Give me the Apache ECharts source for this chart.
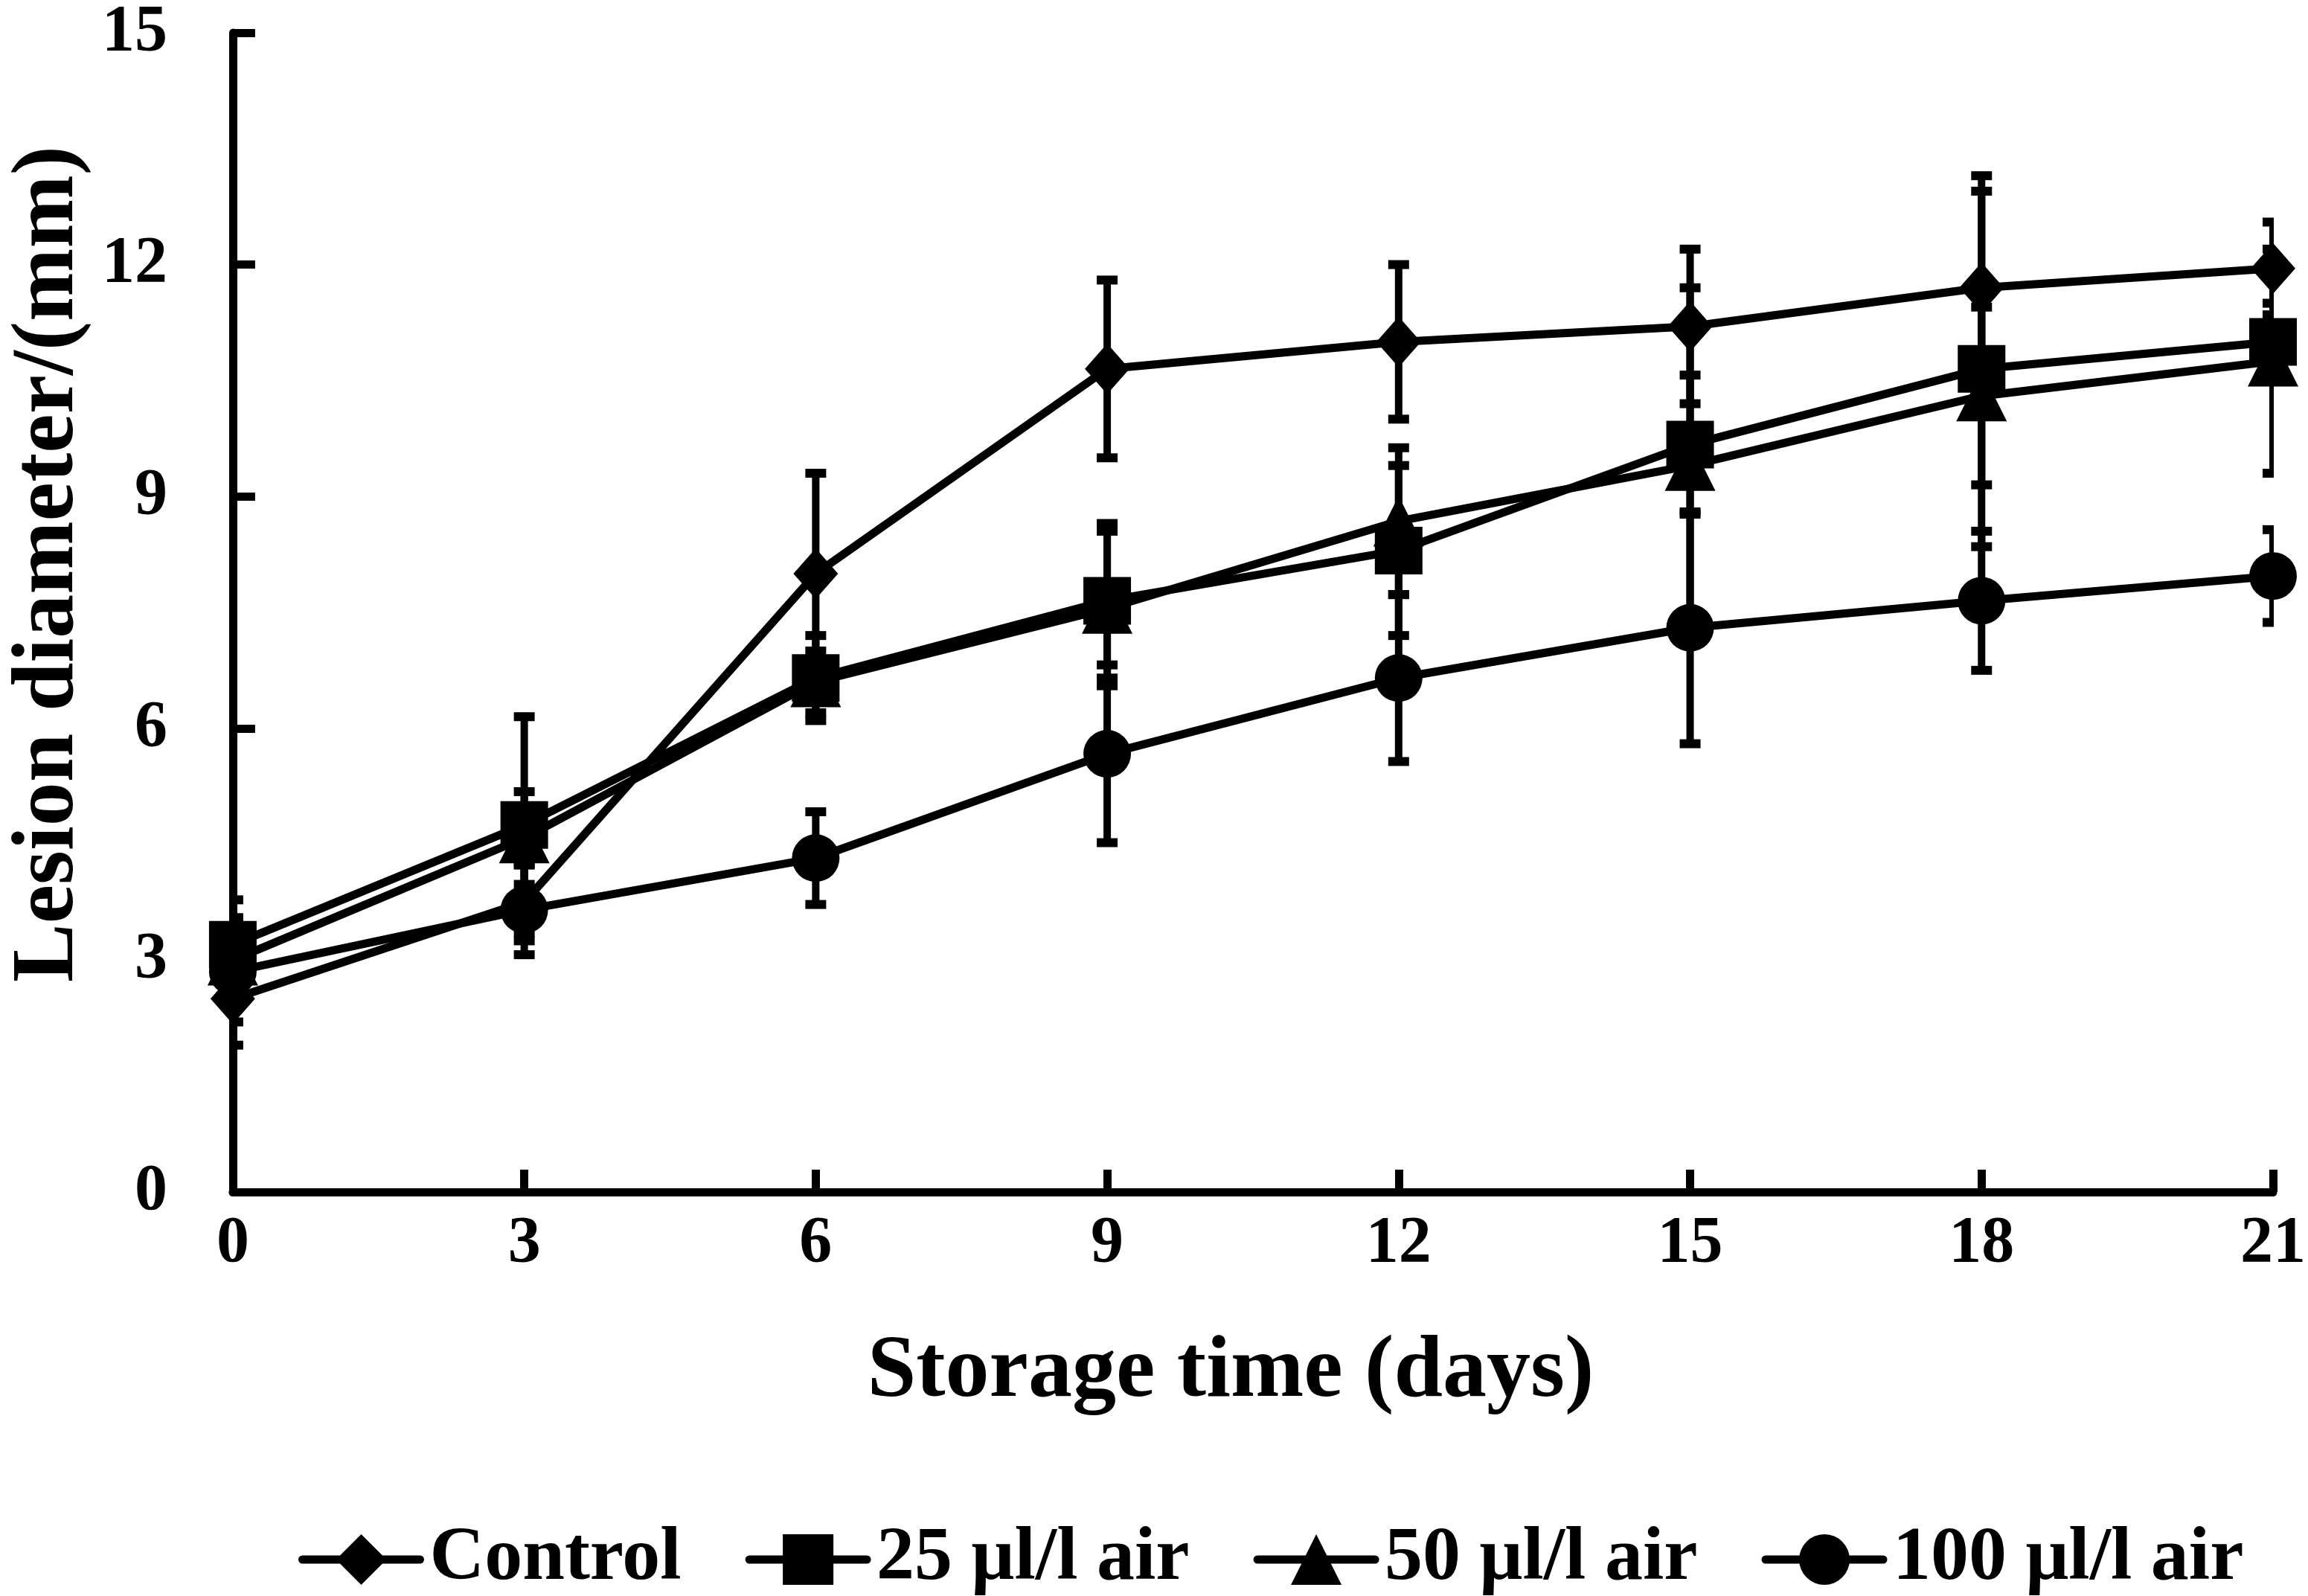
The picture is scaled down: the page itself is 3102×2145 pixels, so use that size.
<!DOCTYPE html>
<html>
<head>
    <meta charset="utf-8">
    <title>Lesion diameter</title>
    <style>
        html, body {margin: 0; padding: 0; background: #fff;}
        #main {width: 3102px; height: 2145px;}
    </style>
    <script src="https://cdn.jsdelivr.net/npm/echarts@6/dist/echarts.min.js"></script>
</head>
<body>
<div id="main"></div>
<script type="text/javascript">
    // storage days
    var days = [0, 3, 6, 9, 12, 15, 18, 21];

    // mean lesion diameter (mm) and SD
    var control = [2.5, 3.75, 8.0, 10.65, 11.0, 11.2, 11.7, 11.95];
    var controlSd = [0.6, 0.5, 1.3, 1.15, 1.0, 1.0, 1.45, 0.6];
    var air25 = [3.2, 4.75, 6.65, 7.65, 8.3, 9.67, 10.65, 11.0];
    var air25Sd = [0.58, 1.4, 0.55, 1.0, 1.1, 0.9, 2.3, 0.5];
    var air50 = [3.0, 4.58, 6.6, 7.55, 8.68, 9.4, 10.3, 10.75];
    var air50Sd = [0.55, 0.6, 0.4, 1.0, 0.95, 2.3, 1.15, 1.45];
    var air100 = [2.85, 3.65, 4.32, 5.67, 6.65, 7.3, 7.65, 7.97];
    var air100Sd = [0.65, 0.58, 0.6, 1.15, 1.08, 1.5, 0.9, 0.6];

    var names = ['Control', '25 μl/l air', '50 μl/l air', '100 μl/l air'];
    var symbols = ['diamond', 'rect', 'triangle', 'circle'];
    var symbolSizes = [[60, 68], 64, 68, 64];
    var means = [control, air25, air50, air100];
    var sds = [controlSd, air25Sd, air50Sd, air100Sd];

    var font = "'Liberation Serif', 'Times New Roman', serif";

    function pairs(vals) {
        return days.map(function (d, i) { return [d, vals[i]]; });
    }
    function bars(vals, sd) {
        return days.map(function (d, i) { return [d, vals[i] - sd[i], vals[i] + sd[i]]; });
    }

    // vertical error bar with caps
    function renderBar(params, api) {
        var x = api.value(0);
        var lo = api.coord([x, api.value(1)]);
        var hi = api.coord([x, api.value(2)]);
        var cw = 14;
        var stem = {stroke: '#000', lineWidth: 10};
        var cap = {stroke: '#000', lineWidth: 12};
        return {
            type: 'group',
            children: [
                {type: 'line', shape: {x1: lo[0], y1: lo[1], x2: hi[0], y2: hi[1]}, style: stem},
                {type: 'line', shape: {x1: hi[0] - cw, y1: hi[1], x2: hi[0] + cw, y2: hi[1]}, style: cap},
                {type: 'line', shape: {x1: lo[0] - cw, y1: lo[1], x2: lo[0] + cw, y2: lo[1]}, style: cap}
            ]
        };
    }

    var series = [];
    for (var i = 0; i < names.length; i++) {
        series.push({
            type: 'custom',
            renderItem: renderBar,
            data: bars(means[i], sds[i]),
            encode: {x: 0, y: [1, 2]},
            clip: true,
            silent: true,
            z: 1
        });
    }
    for (var i = 0; i < names.length; i++) {
        series.push({
            name: names[i],
            type: 'line',
            data: pairs(means[i]),
            symbol: symbols[i],
            symbolSize: symbolSizes[i],
            showAllSymbol: true,
            clip: false,
            lineStyle: {color: '#000', width: 11},
            itemStyle: {color: '#000'},
            z: 3
        });
    }

    var myChart = echarts.init(document.getElementById('main'));
    var option = {
        animation: false,
        backgroundColor: '#fff',
        grid: {left: 290, right: 47, top: 38, bottom: 543},
        legend: {
            data: names,
            left: 396,
            top: 2040,
            itemWidth: 158,
            itemHeight: 85,
            itemGap: 86,
            lineStyle: {width: 11, color: '#000', cap: 'round'},
            textStyle: {fontFamily: font, fontWeight: 'bold', fontSize: 102, color: '#000', padding: [0, 0, 0, 8]}
        },
        xAxis: {
            type: 'value',
            min: 0,
            max: 21,
            interval: 3,
            name: 'Storage time (days)',
            nameLocation: 'middle',
            nameGap: 185,
            nameTextStyle: {fontFamily: font, fontWeight: 'bold', fontSize: 118, color: '#000', padding: [0, 60, 0, 0]},
            axisLine: {lineStyle: {color: '#000', width: 11}},
            axisTick: {inside: true, length: 30, lineStyle: {color: '#000', width: 11}},
            axisLabel: {fontFamily: font, fontWeight: 'bold', fontSize: 88, color: '#000', margin: 26},
            splitLine: {show: false}
        },
        yAxis: {
            type: 'value',
            min: 0,
            max: 15,
            interval: 3,
            name: 'Lesion diameter/(mm)',
            nameLocation: 'middle',
            nameGap: 176,
            nameTextStyle: {fontFamily: font, fontWeight: 'bold', fontSize: 118, color: '#000', padding: [0, 0, 0, 130]},
            axisLine: {show: true, lineStyle: {color: '#000', width: 11}},
            axisTick: {show: true, inside: true, length: 30, lineStyle: {color: '#000', width: 11}},
            axisLabel: {fontFamily: font, fontWeight: 'bold', fontSize: 88, color: '#000', margin: 88},
            splitLine: {show: false}
        },
        series: series
    };
    myChart.setOption(option);
</script>
</body>
</html>
